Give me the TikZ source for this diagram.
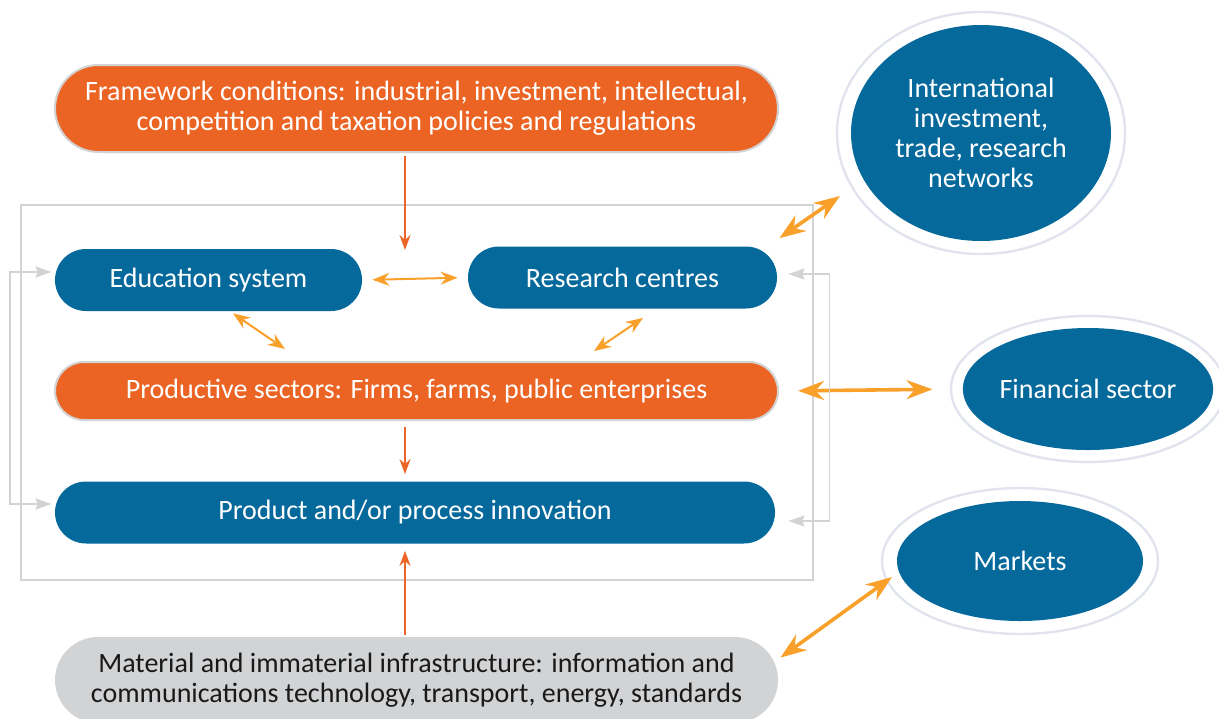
\documentclass[tikz,border=0pt]{standalone}
\usepackage{fontspec}
\setmainfont{Carlito}
\usepackage{xcolor}
\usetikzlibrary{shapes,arrows.meta,positioning,fit}

\definecolor{sysblue}{HTML}{05699B}
\definecolor{sysorange}{HTML}{EB6424}
\definecolor{darkarrow}{HTML}{EE6528}
\definecolor{lightarrow}{HTML}{F8A02A}
\definecolor{infragrey}{HTML}{D2D3D5}
\definecolor{frameline}{HTML}{D3D3D4}
\definecolor{ringline}{HTML}{E1E4EE}

\begin{document}
\begin{tikzpicture}[x=0.5pt, y=-0.5pt,
			font=\fontsize{14}{15}\selectfont,
			block/.style={rectangle, fill=sysblue, text=white, align=center,
					inner sep=0pt, minimum height=31pt, rounded corners=15.5pt},
			hwblock/.style={rectangle, draw=frameline, line width=1pt, fill=sysorange,
					text=white, align=center, inner sep=0pt},
			infblock/.style={rectangle, fill=infragrey, text=black!90, align=center,
					inner sep=0pt, minimum width=361.5pt, minimum height=43pt, rounded corners=21.5pt},
			ellblock/.style={ellipse, fill=sysblue, text=white, align=center, inner sep=0pt},
			ring/.style={draw=ringline, line width=1.2pt},
			arrow/.style={->, line width=1pt, draw=darkarrow, >={Stealth[length=7.5pt,width=5.5pt]}},
			dblarrow/.style={<->, line width=1pt, draw=lightarrow, >={Stealth[length=8.5pt,width=6.5pt]}},
			bigarrow/.style={<->, line width=1.8pt, draw=lightarrow, >={Stealth[length=13pt,width=9.5pt]}},
			fbarrow/.style={<->, line width=0.9pt, draw=frameline, >={Stealth[length=8pt,width=5.5pt,inset=1pt]}}
		]
		\useasboundingbox (0,0) rectangle (1219,718);

		% system frame
		\draw[frameline, line width=1pt] (21,205) rectangle (813,580);

		% inner system
		\node[hwblock, minimum width=361.5pt, minimum height=43.5pt, rounded corners=21.75pt] (frame) at (416.5,108.5)
			{Framework conditions: industrial, investment, intellectual,\\competition and taxation policies and regulations};
		\node[block, minimum width=153.5pt] (edu) at (208.5,280) {Education system};
		\node[block, minimum width=154.5pt] (res) at (622.5,277.5) {Research centres};
		\node[hwblock, minimum width=361.5pt, minimum height=29pt, rounded corners=14.5pt] (prod) at (416.5,391)
			{Productive sectors: Firms, farms, public enterprises};
		\node[block, minimum width=360pt] (innov) at (415,512.5) {Product and/or process innovation};
		\node[infblock] (infra) at (416.5,680)
			{Material and immaterial infrastructure: information and\\communications technology, transport, energy, standards};

		% outside world
		\node[ellblock, minimum width=130pt, minimum height=108pt] (intl) at (981,133)
			{International\\investment,\\trade, research\\networks};
		\node[ellblock, minimum width=123pt, minimum height=61pt] (fin) at (1088,389) {Financial sector};
		\node[ellblock, minimum width=123pt, minimum height=60pt] (mkt) at (1020,561) {Markets};
		\draw[ring] (intl.center) ellipse [x radius=72pt, y radius=60.5pt];
		\draw[ring] (fin.center) ellipse [x radius=68.5pt, y radius=36.5pt];
		\draw[ring] (mkt.center) ellipse [x radius=69pt, y radius=36.5pt];

		% Connections
		\coordinate (drop) at (405,250);
		\draw[arrow] ([yshift=-1.5pt]drop |- frame.south) -- (drop);
		\draw[arrow] ([yshift=-3pt]drop |- prod.south) -- ([yshift=3.5pt]drop |- innov.north);
		\draw[arrow] ([yshift=1pt]drop |- infra.north) -- ([yshift=-3.5pt]drop |- innov.south);

		\draw[dblarrow, shorten <=5pt, shorten >=5pt] (edu.east) -- (res.west);
		\draw[dblarrow] ([shift={(12.25pt,-1pt)}]edu.south) -- ([shift={(-65.75pt,6pt)}]prod.north);
		\draw[dblarrow] ([shift={(10.25pt,-4.5pt)}]res.south) -- ([shift={(88.75pt,5pt)}]prod.north);

		\draw[bigarrow] ([shift={(1pt,4pt)}]res.north east) -- ([shift={(-70.5pt,-31.5pt)}]intl.center);
		\draw[bigarrow, shorten <=9.5pt, shorten >=15pt] (prod.east) -- (fin.west);
		\draw[bigarrow] ([shift={(1pt,-10.5pt)}]infra.north east) -- ([shift={(-64pt,-8pt)}]mkt.center);

		% feedback loops
		\draw[fbarrow] ([shift={(-1.5pt,4pt)}]edu.west) -- ++(-21pt,0) |- ([shift={(-1.5pt,4.25pt)}]innov.west);
		\draw[fbarrow] ([shift={(5.5pt,1.75pt)}]res.east) -- ++(20.5pt,0) |- ([shift={(6.5pt,-4.25pt)}]innov.east);
	\end{tikzpicture}
\end{document}
